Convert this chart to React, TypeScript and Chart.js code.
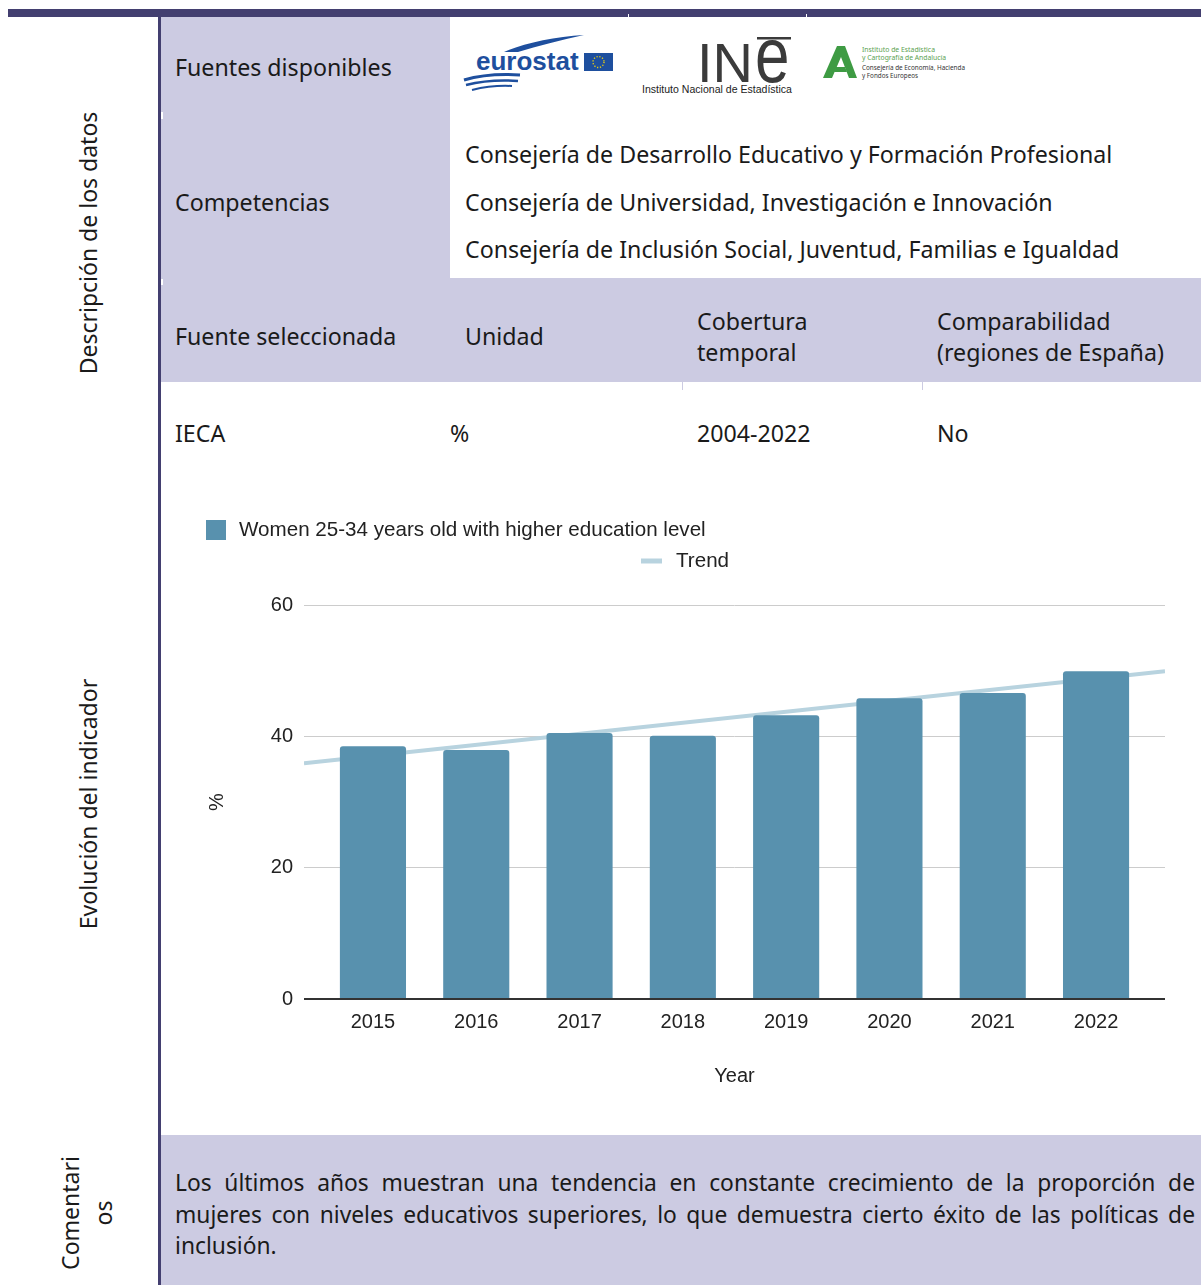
import React, { useEffect, useRef } from "react";
import { Chart, registerables } from "chart.js";

Chart.register(...registerables);

// ---------- data ----------
const years = ["2015", "2016", "2017", "2018", "2019", "2020", "2021", "2022"];
const womenHigherEdu = [38.5, 37.9, 40.5, 40.1, 43.2, 45.8, 46.6, 49.9];
const trendStartEnd = [35.9, 49.9];
const yTickValues = [0, 20, 40, 60];
const seriesLabel = "Women 25-34 years old with higher education level";
const trendLabel = "Trend";
const xTitle = "Year";
const yTitle = "%";

// ---------- styles ----------
const BAR = "#5891ae";
const TREND = "#b8d3df";
const LAV = "#cccbe2";
const DARK = "#433f70";
const TXT = "#1a1a1a";
const CHART_FONT = '"Liberation Sans", Arial, sans-serif';
const X_MIN = -0.6675;
const X_MAX = 7.6675;

const legendPlugin = {
  id: "customLegend",
  afterDraw(chart: any) {
    const ctx = chart.ctx;
    ctx.save();
    ctx.fillStyle = BAR;
    ctx.fillRect(45, 35, 20, 20);
    ctx.font = "20.6px " + CHART_FONT;
    ctx.fillStyle = "#222";
    ctx.textBaseline = "middle";
    ctx.textAlign = "left";
    ctx.fillText(chart.data.datasets[0].label, 78, 45);
    ctx.strokeStyle = TREND;
    ctx.lineWidth = 5;
    ctx.beginPath();
    ctx.moveTo(480, 76);
    ctx.lineTo(501, 76);
    ctx.stroke();
    ctx.fillText(chart.data.datasets[1].label, 515, 76);
    ctx.restore();
  },
};

function ChartBlock() {
  const ref = useRef<HTMLCanvasElement>(null);
  useEffect(() => {
    const chart = new Chart(ref.current as HTMLCanvasElement, {
      type: "bar",
      data: {
        datasets: [
          {
            type: "bar",
            label: seriesLabel,
            data: womenHigherEdu.map((v, i) => ({ x: i, y: v })),
            backgroundColor: BAR,
            borderRadius: { topLeft: 3, topRight: 3, bottomLeft: 0, bottomRight: 0 },
            borderSkipped: false,
            barPercentage: 0.64,
            categoryPercentage: 1,
            order: 1,
          } as any,
          {
            type: "line",
            label: trendLabel,
            data: [
              { x: X_MIN, y: trendStartEnd[0] },
              { x: X_MAX, y: trendStartEnd[1] },
            ],
            borderColor: TREND,
            borderWidth: 4,
            pointRadius: 0,
            fill: false,
            order: 2,
          } as any,
        ],
      },
      plugins: [legendPlugin],
      options: {
        responsive: false,
        animation: false,
        layout: { padding: { top: 120, right: 36, left: 0, bottom: 0 } },
        plugins: { legend: { display: false }, tooltip: { enabled: false } },
        scales: {
          x: {
            type: "linear",
            min: X_MIN,
            max: X_MAX,
            offset: false,
            grid: { display: false, drawTicks: false },
            border: { display: false },
            afterBuildTicks: (scale: any) => {
              scale.ticks = years.map((_, i) => ({ value: i }));
            },
            afterFit: (scale: any) => {
              scale.height = 136;
            },
            ticks: {
              padding: 11,
              autoSkip: false,
              maxRotation: 0,
              color: "#222",
              font: { family: CHART_FONT, size: 20 },
              callback: (v: any) => years[Math.round(Number(v))] ?? "",
            },
            title: {
              display: true,
              text: xTitle,
              color: "#222",
              font: { family: CHART_FONT, size: 20 },
              padding: { top: 0, bottom: 47 },
            },
          },
          y: {
            min: 0,
            max: 60,
            border: { display: false },
            grid: {
              drawTicks: false,
              color: (c: any) => (c.tick && c.tick.value === 0 ? "#333333" : "#cccccc"),
              lineWidth: (c: any) => (c.tick && c.tick.value === 0 ? 2 : 1),
            },
            afterBuildTicks: (scale: any) => {
              scale.ticks = yTickValues.map((v) => ({ value: v }));
            },
            afterFit: (scale: any) => {
              scale.width = 143;
            },
            ticks: {
              padding: 11,
              color: "#222",
              font: { family: CHART_FONT, size: 20 },
            },
            title: {
              display: true,
              text: yTitle,
              color: "#222",
              font: { family: CHART_FONT, size: 20 },
              padding: { top: 44, bottom: 0 },
            },
          },
        },
      } as any,
    });
    return () => chart.destroy();
  }, []);
  return (
    <canvas
      ref={ref}
      width={1040}
      height={650}
      style={{ position: "absolute", left: 161, top: 485, width: 1040, height: 650 }}
    />
  );
}

function Box({ l, t, w, h, c }: { l: number; t: number; w: number; h: number; c: string }) {
  return <div style={{ position: "absolute", left: l, top: t, width: w, height: h, background: c }} />;
}

function T({ x, cy, children }: { x: number; cy: number; children: any }) {
  return (
    <div
      style={{
        position: "absolute",
        left: x,
        top: cy - 15,
        lineHeight: "30px",
        whiteSpace: "nowrap",
      }}
    >
      {children}
    </div>
  );
}

function Rot({ cx, cy, children }: { cx: number; cy: number; children: any }) {
  return (
    <div
      style={{
        position: "absolute",
        left: cx,
        top: cy,
        transform: "translate(-50%, -50%) rotate(-90deg)",
        whiteSpace: "nowrap",
        lineHeight: "33px",
        textAlign: "center",
        fontSize: 23,
      }}
    >
      {children}
    </div>
  );
}

function EurostatLogo() {
  const blue = "#1e4f9e";
  return (
    <svg width={160} height={66} style={{ position: "absolute", left: 460, top: 30 }}>
      <path d="M44 22 C64 13 94 7 124 5 C100 10 78 16 58 22 Z" fill={blue} />
      <text x={16} y={40} fontFamily={CHART_FONT} fontWeight="bold" fontSize={26} fill={blue}>
        eurostat
      </text>
      <rect x={124} y={23} width={29} height={18} fill={blue} />
      <circle cx={138.5} cy={32} r={5.5} fill="none" stroke="#f5d60a" strokeWidth={1.3} strokeDasharray="1.2 1.7" />
      <path d="M4 50 Q28 43 60 45" stroke={blue} strokeWidth={3} fill="none" />
      <path d="M6 55 Q30 49 58 51" stroke={blue} strokeWidth={2.5} fill="none" />
      <path d="M12 60 Q32 55 52 56" stroke={blue} strokeWidth={2} fill="none" />
    </svg>
  );
}

function IneLogo() {
  const g = "#3b3b3b";
  return (
    <svg width={170} height={66} style={{ position: "absolute", left: 636, top: 32 }}>
      <text x={61} y={50} fontFamily={CHART_FONT} fontSize={56} fill={g}>
        IN
      </text>
      <text x={0} y={0} transform="translate(119 50) scale(1 1.26)" fontFamily={CHART_FONT} fontSize={62} fill={g}>
        e
      </text>
      <rect x={121} y={5} width={34} height={2.5} fill={g} />
      <text x={6} y={61} fontFamily={CHART_FONT} fontSize={10} fill="#222" textLength={150} lengthAdjust="spacingAndGlyphs">
        Instituto Nacional de Estadística
      </text>
    </svg>
  );
}

function IecaLogo() {
  const green = "#3e9b43";
  const lg = "#5ba14f";
  const f = '"Noto Sans", sans-serif';
  return (
    <svg width={150} height={40} style={{ position: "absolute", left: 820, top: 42 }}>
      <path d="M3 36 L17 4 L25 4 L37 36 L29 36 L21 15 L12 36 Z" fill={green} />
      <path d="M14 30 L27 30 L25 25 L16 25 Z" fill={green} />
      <text x={42} y={9.5} fontFamily={f} fontSize={7.5} fill={lg} textLength={73} lengthAdjust="spacingAndGlyphs">
        Instituto de Estadística
      </text>
      <text x={42} y={17.5} fontFamily={f} fontSize={7.5} fill={lg} textLength={84} lengthAdjust="spacingAndGlyphs">
        y Cartografía de Andalucía
      </text>
      <text x={42} y={27.5} fontFamily={f} fontSize={7.5} fill="#333" textLength={103} lengthAdjust="spacingAndGlyphs">
        Consejería de Economía, Hacienda
      </text>
      <text x={42} y={35.5} fontFamily={f} fontSize={7.5} fill="#333" textLength={56} lengthAdjust="spacingAndGlyphs">
        y Fondos Europeos
      </text>
    </svg>
  );
}

export default function App() {
  const commentStyle = (last: boolean): any => ({
    position: "absolute",
    left: 175,
    width: 1020,
    lineHeight: "30px",
    whiteSpace: "nowrap",
    textAlign: "justify",
    textAlignLast: last ? "left" : "justify",
    fontSize: 22.8,
  });
  return (
    <div
      style={{
        position: "absolute",
        left: 0,
        top: 0,
        width: 1201,
        height: 1285,
        overflow: "hidden",
        background: "#ffffff",
        fontFamily: '"Noto Sans", sans-serif',
        fontSize: 23.2,
        color: TXT,
      }}
    >
      {/* top bar */}
      <Box l={8} t={9} w={1193} h={8} c={DARK} />
      <Box l={628} t={14} w={1} h={3} c="#ffffff" />
      <Box l={806} t={14} w={1} h={3} c="#ffffff" />
      {/* left vertical line */}
      <Box l={158} t={17} w={3} h={1268} c={DARK} />
      {/* lavender cells */}
      <Box l={161} t={17} w={289} h={261} c={LAV} />
      <Box l={161} t={278} w={1040} h={104} c={LAV} />
      <Box l={682} t={382} w={1} h={8} c={LAV} />
      <Box l={922} t={382} w={1} h={8} c={LAV} />
      <Box l={161} t={1135} w={1040} h={150} c={LAV} />
      <Box l={161} t={112} w={2} h={7} c="#ffffff" />
      <Box l={161} t={279} w={2} h={6} c="#ffffff" />

      {/* rotated side labels */}
      <Rot cx={88} cy={243}>Descripción de los datos</Rot>
      <Rot cx={88} cy={804}>Evolución del indicador</Rot>
      <Rot cx={87} cy={1213}>
        Comentari
        <br />
        os
      </Rot>

      {/* row 1 */}
      <T x={175} cy={67}>Fuentes disponibles</T>
      <EurostatLogo />
      <IneLogo />
      <IecaLogo />

      {/* row 2 */}
      <T x={175} cy={202}>Competencias</T>
      <T x={465} cy={154}>Consejería de Desarrollo Educativo y Formación Profesional</T>
      <T x={465} cy={202}>Consejería de Universidad, Investigación e Innovación</T>
      <T x={465} cy={249}>Consejería de Inclusión Social, Juventud, Familias e Igualdad</T>

      {/* header row */}
      <T x={175} cy={336}>Fuente seleccionada</T>
      <T x={465} cy={336}>Unidad</T>
      <T x={697} cy={321}>Cobertura</T>
      <T x={697} cy={352}>temporal</T>
      <T x={937} cy={321}>Comparabilidad</T>
      <T x={937} cy={352}>(regiones de España)</T>

      {/* values row */}
      <T x={175} cy={433}>IECA</T>
      <T x={450} cy={433}>%</T>
      <T x={697} cy={433}>2004-2022</T>
      <T x={937} cy={433}>No</T>

      <ChartBlock />

      {/* comments */}
      <div style={{ ...commentStyle(false), top: 1183 - 15 }}>
        Los últimos años muestran una tendencia en constante crecimiento de la proporción de
      </div>
      <div style={{ ...commentStyle(false), top: 1215 - 15 }}>
        mujeres con niveles educativos superiores, lo que demuestra cierto éxito de las políticas de
      </div>
      <div style={{ ...commentStyle(true), top: 1246 - 15 }}>inclusión.</div>
    </div>
  );
}
